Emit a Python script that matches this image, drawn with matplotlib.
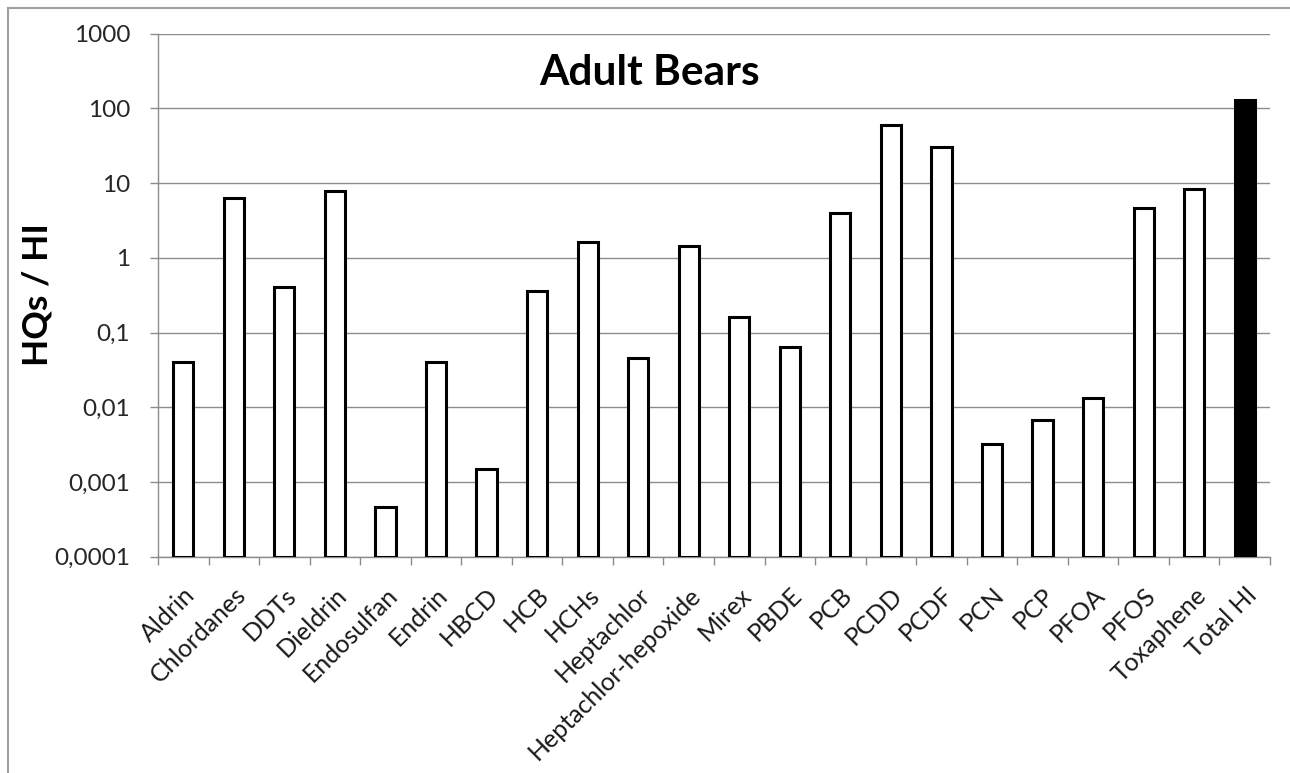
import numpy as np
import matplotlib
matplotlib.use("Agg")
import matplotlib.pyplot as plt
from matplotlib.ticker import FixedLocator, NullLocator, FuncFormatter
from matplotlib.lines import Line2D

plt.rcParams['font.family'] = ['Lato', 'DejaVu Sans']

# hazard quotients per compound, last entry is the total hazard index
compounds = ["Aldrin", "Chlordanes", "DDTs", "Dieldrin", "Endosulfan", "Endrin",
             "HBCD", "HCB", "HCHs", "Heptachlor", "Heptachlor-hepoxide", "Mirex",
             "PBDE", "PCB", "PCDD", "PCDF", "PCN", "PCP", "PFOA", "PFOS",
             "Toxaphene", "Total HI"]
hq = [0.04, 6.4, 0.41, 7.8, 0.00046, 0.04,
      0.0015, 0.36, 1.63, 0.046, 1.45, 0.16,
      0.065, 4.0, 60, 30, 0.0032, 0.0068, 0.0134, 4.7,
      8.4, 128]
y_ticks = [0.0001, 0.001, 0.01, 0.1, 1, 10, 100, 1000]

fig = plt.figure(figsize=(12.9, 7.73), dpi=100)
ax = fig.add_axes([0.1225, 0.2798, 0.862, 0.6766])

x = np.arange(len(compounds))
face = ["white"] * (len(compounds) - 1) + ["black"]
base = y_ticks[0]
ax.bar(x, np.array(hq) - base, bottom=base, width=0.4, color=face,
       edgecolor="black", linewidth=2.2, zorder=3)

ax.set_yscale("log")
ax.set_ylim(y_ticks[0], y_ticks[-1])
ax.set_xlim(-0.5, len(compounds) - 0.5)

# decimal comma labels on the log axis
def comma_fmt(v, pos):
    if v >= 1:
        return "%g" % v
    return ("%.*f" % (int(round(-np.log10(v))), v)).replace(".", ",")

ax.yaxis.set_major_locator(FixedLocator(y_ticks))
ax.yaxis.set_minor_locator(NullLocator())
ax.yaxis.set_major_formatter(FuncFormatter(comma_fmt))
ax.grid(axis="y", color="#8c8c8c", linewidth=1.0, zorder=0)

# category labels, ticks sit on the boundaries between bars
ax.set_xticks(x)
ax.set_xticklabels(compounds, rotation=45, ha="right", rotation_mode="anchor",
                   fontsize=18, color="#1a1a1a")
ax.tick_params(axis="x", which="major", length=0, pad=19)
ax.set_xticks(np.arange(len(compounds) + 1) - 0.5, minor=True)
ax.tick_params(axis="x", which="minor", length=6, color="#8c8c8c", width=1)

ax.tick_params(axis="y", length=6, color="#8c8c8c", width=1, labelsize=17.5,
               labelcolor="#262626", pad=14)

for s in ["top", "right"]:
    ax.spines[s].set_visible(False)
for s in ["left", "bottom"]:
    ax.spines[s].set_color("#8c8c8c")
    ax.spines[s].set_linewidth(1.0)

fig.text(650 / 1290, 1 - 85 / 773, "Adult Bears", ha="center", va="baseline",
         fontsize=30.5, fontweight="bold")
fig.text(38 / 1290, 1 - 295 / 773, "HQs / HI", ha="center", va="center",
         rotation=90, fontsize=25.5, fontweight="bold")

# chart frame, left and top edges
fx, fy = 7.5 / 1290, 1 - 7.5 / 773
fig.add_artist(Line2D([fx, fx], [0, fy], transform=fig.transFigure,
                      color="#a0a0a0", linewidth=1.5))
fig.add_artist(Line2D([fx, 1], [fy, fy], transform=fig.transFigure,
                      color="#a0a0a0", linewidth=1.5))

fig.savefig("out.png", dpi=100, facecolor="white")
